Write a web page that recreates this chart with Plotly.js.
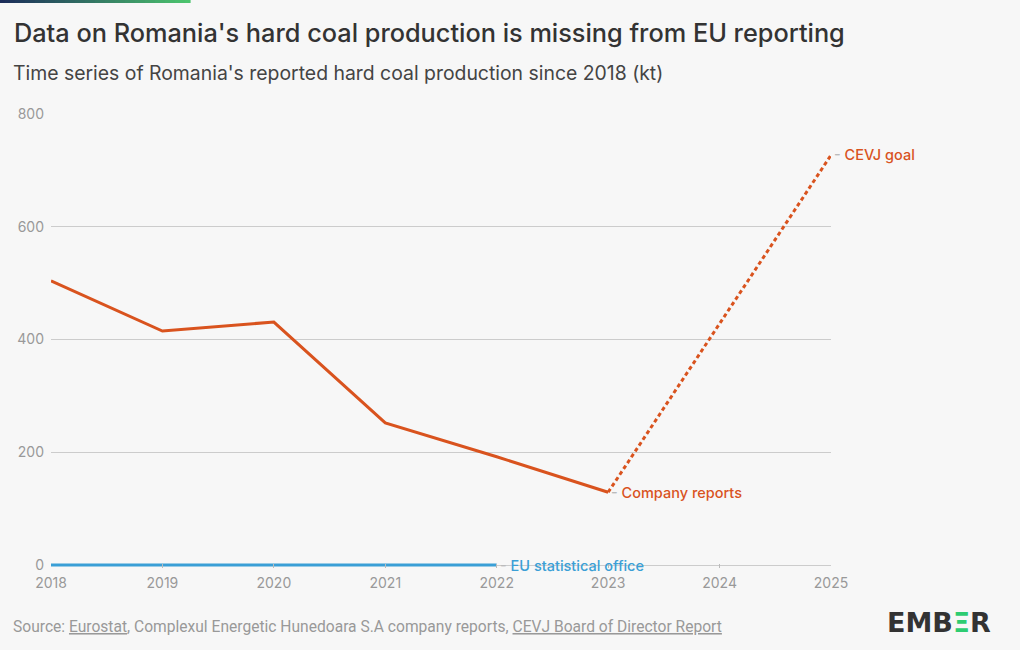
<!DOCTYPE html>
<html>
<head>
<meta charset="utf-8">
<script src="https://cdn.plot.ly/plotly-3.0.1.min.js"></script>
<style>
html,body{margin:0;padding:0;background:#f7f7f7;}
#chart{width:1020px;height:650px;}
</style>
</head>
<body>
<div id="chart"></div>
<script>
// Data
const companyYears = [2018, 2019, 2020, 2021, 2022, 2023];
const companyValues = [504, 415, 431, 252, 192, 129];
const goalYears = [2023, 2025];
const goalValues = [129, 727];
const eurostatYears = [2018, 2019, 2020, 2021, 2022];
const eurostatValues = [0, 0, 0, 0, 0];
const xTicks = [2018, 2019, 2020, 2021, 2022, 2023, 2024, 2025];
const yTicks = [0, 200, 400, 600, 800];

const ORANGE = '#d9531e';
const BLUE = '#3a9fd6';
const FONT = 'Inter, "Noto Sans", sans-serif';

const traces = [
  {x: eurostatYears, y: eurostatValues, mode: 'lines', line: {color: BLUE, width: 3}, cliponaxis: false, hoverinfo: 'skip'},
  {x: goalYears, y: goalValues, mode: 'lines', line: {color: ORANGE, width: 3, dash: '4px,3px'}, cliponaxis: false, hoverinfo: 'skip'},
  {x: companyYears, y: companyValues, mode: 'lines', line: {color: ORANGE, width: 3}, cliponaxis: false, hoverinfo: 'skip'}
];

// plot area: left 51, right 831, top 114, bottom 568 (value 0 at 565)
const PL = 51, PW = 780, PT = 114, PB = 568, PH = PB - PT;
const px2x = p => (p - PL) / PW;
const py2y = p => (PB - p) / PH;

// gradient bar at top-left
const shapes = [];
const nSteps = 38;
const c0 = [28, 45, 90], c1 = [76, 196, 110];
for (let i = 0; i < nSteps; i++) {
  const t = i / (nSteps - 1);
  const c = c0.map((v, k) => Math.round(v + (c1[k] - v) * t));
  shapes.push({type: 'rect', xref: 'paper', yref: 'paper', layer: 'above',
    x0: px2x(i * 190 / nSteps), x1: px2x((i + 1) * 190 / nSteps + 0.6),
    y0: py2y(3), y1: py2y(0),
    fillcolor: 'rgb(' + c.join(',') + ')', line: {width: 0}});
}

const gray = "<span style='color:#bbbbbb'>-</span> ";
const annotations = [
  {xref: 'paper', yref: 'paper', x: px2x(11), y: py2y(73), xanchor: 'left', yanchor: 'middle',
   text: "Time series of Romania's reported hard coal production since 2018 (kt)", showarrow: false,
   font: {family: FONT, size: 19.4, color: '#444'}},
  {xref: 'x', yref: 'y', x: 2023, y: companyValues[companyValues.length - 1], xanchor: 'left', yanchor: 'middle', xshift: 1,
   text: gray + 'Company reports', showarrow: false, font: {family: FONT, size: 14.5, color: ORANGE, weight: 500}},
  {xref: 'x', yref: 'y', x: 2025, y: goalValues[1], xanchor: 'left', yanchor: 'middle', xshift: 1,
   text: gray + 'CEVJ goal', showarrow: false, font: {family: FONT, size: 14.5, color: ORANGE, weight: 500}},
  {xref: 'x', yref: 'y', x: 2022, y: 0, xanchor: 'left', yanchor: 'middle', xshift: 1,
   text: gray + 'EU statistical office', showarrow: false, font: {family: FONT, size: 14.5, color: BLUE, weight: 500}},
  {xref: 'paper', yref: 'paper', x: px2x(11), y: py2y(627), xanchor: 'left', yanchor: 'middle',
   text: "Source: <span style='text-decoration:underline'>Eurostat</span>, Complexul Energetic Hunedoara S.A company reports, <span style='text-decoration:underline'>CEVJ Board of Director Report</span>",
   showarrow: false, font: {family: 'Roboto, sans-serif', size: 15.6, color: '#999'}},
  {xref: 'paper', yref: 'paper', x: px2x(993), y: py2y(622), xanchor: 'right', yanchor: 'middle',
   text: "<b>EMB<span style='color:#2ecc71'>Ξ</span>R</b>", showarrow: false,
   font: {family: '"DejaVu Sans", sans-serif', size: 27, color: '#333'}}
];

const layout = {
  width: 1020, height: 650,
  paper_bgcolor: '#f7f7f7', plot_bgcolor: '#f7f7f7',
  margin: {l: PL, r: 1020 - PL - PW, t: PT, b: 650 - PB},
  showlegend: false,
  title: {text: "Data on Romania's hard coal production is missing from EU reporting",
    x: 14 / 1020, xanchor: 'left', xref: 'container', y: 1 - 33 / 650, yanchor: 'middle', yref: 'container',
    font: {family: FONT, size: 25.3, color: '#333', weight: 500}},
  xaxis: {range: [2018, 2025], tickvals: xTicks, ticktext: xTicks.map(String), showgrid: false, zeroline: false,
    showline: false, ticks: 'inside', ticklen: 4, tickcolor: '#bbb', ticklabelstandoff: 5,
    tickfont: {family: FONT, size: 14, color: '#999'}, fixedrange: true},
  yaxis: {range: [-800 * 3 / 451, 800], tickvals: yTicks, showgrid: true, gridcolor: '#cccccc', gridwidth: 1, zeroline: false,
    showline: false, ticks: '', ticklabelstandoff: 6, tickfont: {family: FONT, size: 14, color: '#999'}, fixedrange: true},
  shapes: shapes,
  annotations: annotations
};

Plotly.newPlot('chart', traces, layout, {displayModeBar: false, staticPlot: true});
</script>
</body>
</html>
